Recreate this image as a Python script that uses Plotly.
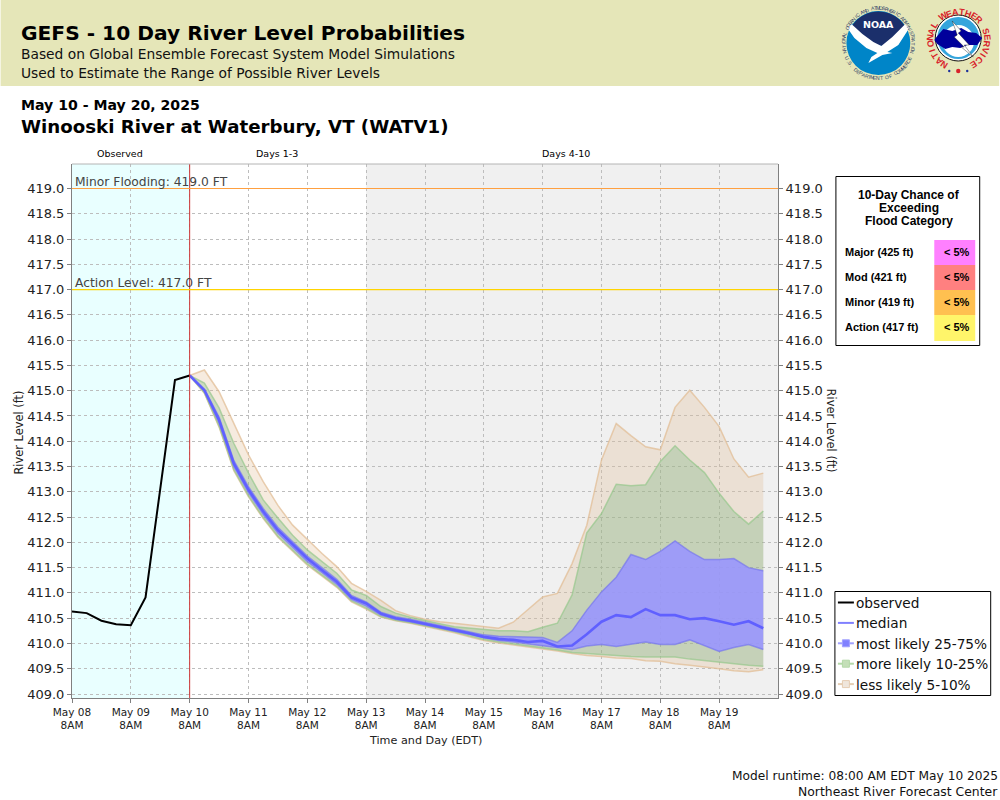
"""
plot.py - GEFS 10 day river level probabilities, Winooski River at Waterbury, VT.
"""
import math

import pandas as pd
import plotly.graph_objects as go

# ---------------------------------------------------------------------------
# Data
# ---------------------------------------------------------------------------
obs_start = "2025-05-08 08:00"
observed = [410.63, 410.60, 410.45, 410.38, 410.36, 410.91, 413.06, 415.21, 415.30]

fcst_start = "2025-05-10 08:00"
p95 = [415.30, 415.41, 414.98, 414.35, 413.73, 413.20, 412.73, 412.34, 412.05, 411.78,
       411.52, 411.19, 411.03, 410.85, 410.65, 410.55, 410.48, 410.43, 410.40, 410.37,
       410.33, 410.30, 410.42, 410.68, 410.92, 410.99, 411.58, 412.34, 413.63, 414.35,
       414.11, 413.89, 413.83, 414.67, 415.01, 414.67, 414.29, 413.65, 413.29, 413.37]
p90 = [415.30, 415.15, 414.66, 413.96, 413.37, 412.84, 412.48, 412.14, 411.85, 411.62,
       411.39, 411.06, 410.95, 410.73, 410.60, 410.52, 410.45, 410.39, 410.33, 410.30,
       410.27, 410.25, 410.25, 410.23, 410.32, 410.40, 410.96, 412.19, 412.57, 413.15,
       413.12, 413.14, 413.60, 413.91, 413.63, 413.38, 412.97, 412.61, 412.36, 412.62]
p75 = [415.30, 415.03, 414.48, 413.62, 413.10, 412.67, 412.30, 412.01, 411.73, 411.50,
       411.27, 410.95, 410.82, 410.62, 410.53, 410.48, 410.42, 410.35, 410.30, 410.23,
       410.17, 410.14, 410.14, 410.13, 410.12, 410.02, 410.25, 410.66, 411.02, 411.31,
       411.76, 411.66, 411.82, 412.03, 411.82, 411.66, 411.66, 411.68, 411.50, 411.44]
median = [415.30, 415.01, 414.42, 413.56, 413.04, 412.61, 412.24, 411.96, 411.68, 411.45,
          411.22, 410.91, 410.79, 410.59, 410.50, 410.45, 410.39, 410.32, 410.27, 410.20,
          410.13, 410.09, 410.07, 410.03, 410.05, 409.94, 409.96, 410.18, 410.43, 410.56,
          410.52, 410.68, 410.56, 410.56, 410.48, 410.50, 410.44, 410.37, 410.44, 410.30]
p25 = [415.30, 414.99, 414.36, 413.50, 412.98, 412.55, 412.18, 411.90, 411.62, 411.40,
       411.17, 410.87, 410.74, 410.56, 410.48, 410.43, 410.37, 410.30, 410.25, 410.18,
       410.11, 410.06, 410.03, 409.99, 409.96, 409.92, 409.88, 409.95, 409.98, 409.94,
       409.98, 410.03, 409.98, 409.98, 410.07, 409.95, 409.84, 409.92, 409.98, 409.88]
p10 = [415.30, 414.96, 414.30, 413.44, 412.92, 412.49, 412.12, 411.84, 411.57, 411.35,
       411.13, 410.84, 410.70, 410.53, 410.46, 410.41, 410.35, 410.28, 410.23, 410.15,
       410.08, 410.03, 409.99, 409.96, 409.92, 409.87, 409.82, 409.80, 409.77, 409.76,
       409.74, 409.73, 409.73, 409.73, 409.69, 409.66, 409.63, 409.59, 409.57, 409.55]
p5 = [415.30, 414.95, 414.28, 413.42, 412.90, 412.47, 412.10, 411.82, 411.55, 411.33,
      411.11, 410.82, 410.68, 410.52, 410.45, 410.40, 410.34, 410.27, 410.21, 410.13,
      410.06, 410.01, 409.97, 409.94, 409.90, 409.85, 409.80, 409.76, 409.74, 409.71,
      409.70, 409.66, 409.65, 409.60, 409.57, 409.54, 409.50, 409.46, 409.44, 409.48]

tick_days = ["May 08", "May 09", "May 10", "May 11", "May 12", "May 13",
             "May 14", "May 15", "May 16", "May 17", "May 18", "May 19"]
y_ticks = [409 + 0.5 * i for i in range(21)]

flood_names = ["Major (425 ft)", "Mod (421 ft)", "Minor (419 ft)", "Action (417 ft)"]
flood_chance = ["< 5%", "< 5%", "< 5%", "< 5%"]
flood_colors = ["#FF80FF", "#FF8080", "#FFC050", "#FFF56A"]

legend_names = ["observed", "median", "most likely 25-75%", "more likely 10-25%", "less likely 5-10%"]

minor_level = 419.0
action_level = 417.0

# ---------------------------------------------------------------------------
# Pixel helpers (page is 1000x800, everything outside the axes goes in paper)
# ---------------------------------------------------------------------------
W, H = 1000, 800
L, R, T, B = 71.5, 778.5, 164, 698


def px(x):
    return (x - L) / (R - L)


def py(y):
    return (B - y) / (B - T)


annotations = []
shapes = []


def label(x, y, text, size=12, color="#000000", family="DejaVu Sans", anchor="left", angle=0):
    annotations.append(dict(
        x=px(x), y=py(y), xref="paper", yref="paper", text=text, showarrow=False,
        xanchor=anchor, yanchor="middle", textangle=angle,
        font=dict(family=family, size=size, color=color), borderpad=0, borderwidth=0,
    ))


def rect(x0, y0, x1, y1, fill, line=None, width=1):
    shapes.append(dict(
        type="rect", xref="paper", yref="paper", x0=px(x0), x1=px(x1), y0=py(y0), y1=py(y1),
        fillcolor=fill, line=dict(color=line or fill, width=width if line else 0), layer="above",
    ))


def seg(x0, y0, x1, y1, color, width=1):
    shapes.append(dict(
        type="line", xref="paper", yref="paper", x0=px(x0), x1=px(x1), y0=py(y0), y1=py(y1),
        line=dict(color=color, width=width), layer="above",
    ))


def poly(points, fill, line=None, width=0.5):
    path = "M" + " L".join(f"{px(a):.5f},{py(b):.5f}" for a, b in points) + " Z"
    shapes.append(dict(
        type="path", xref="paper", yref="paper", path=path, fillcolor=fill,
        line=dict(color=line or fill, width=width if line else 0), layer="above",
    ))


def circle(cx, cy, r, fill, line=None, width=1):
    shapes.append(dict(
        type="circle", xref="paper", yref="paper", x0=px(cx - r), x1=px(cx + r),
        y0=py(cy + r), y1=py(cy - r), fillcolor=fill,
        line=dict(color=line or fill, width=width if line else 0), layer="above",
    ))


def ring_text(cx, cy, r, text, start, end, size, color, bold=False, bottom=False):
    """Letters along a circle. Angles in degrees, clockwise from 12 o'clock."""
    n = len(text)
    for i, ch in enumerate(text):
        if ch == " ":
            continue
        a = start + (end - start) * i / (n - 1)
        t = math.radians(a)
        angle = a - 180 if bottom else a
        label(cx + r * math.sin(t), cy - r * math.cos(t), f"<b>{ch}</b>" if bold else ch,
              size=size, color=color, anchor="center", angle=angle,
              family="Liberation Sans")


# ---------------------------------------------------------------------------
# Figure
# ---------------------------------------------------------------------------
fcst_x = pd.date_range(fcst_start, periods=len(median), freq="6h")
obs_x = pd.date_range(obs_start, periods=len(observed), freq="6h")
tick_x = pd.date_range(obs_start, periods=len(tick_days), freq="1D")

TAN_LINE, TAN_FILL = "rgba(225,190,150,0.75)", "rgba(225,190,150,0.30)"
GREEN_LINE, GREEN_FILL = "rgba(150,200,140,0.70)", "rgba(110,175,120,0.30)"
BLUE_LINE, BLUE_FILL = "rgba(110,110,240,0.60)", "rgba(153,148,255,0.88)"

fig = go.Figure()


def band(low, high, line, fill):
    fig.add_trace(go.Scatter(x=fcst_x, y=low, mode="lines", line=dict(color=line, width=1.5),
                             showlegend=False, hoverinfo="skip"))
    fig.add_trace(go.Scatter(x=fcst_x, y=high, mode="lines", line=dict(color=line, width=1.5),
                             fill="tonexty", fillcolor=fill, showlegend=False, hoverinfo="skip"))


band(p5, p95, TAN_LINE, TAN_FILL)
band(p10, p90, GREEN_LINE, GREEN_FILL)
band(p25, p75, BLUE_LINE, BLUE_FILL)

fig.add_trace(go.Scatter(x=fcst_x, y=median, mode="lines", name="median",
                         line=dict(color="#6060FF", width=2.6), showlegend=False))
fig.add_trace(go.Scatter(x=obs_x, y=observed, mode="lines", name="observed",
                         line=dict(color="#000000", width=2), showlegend=False))

# right hand axis, same scale
fig.add_trace(go.Scatter(x=[None], y=[None], yaxis="y2", showlegend=False, hoverinfo="skip"))

# background periods, then flood levels
shapes.append(dict(type="rect", xref="x", yref="paper", x0=tick_x[0], x1=fcst_start, y0=0, y1=1,
                   fillcolor="#E9FFFF", line=dict(width=0), layer="below"))
shapes.append(dict(type="rect", xref="x", yref="paper", x0="2025-05-13 08:00", x1="2025-05-20 08:00",
                   y0=0, y1=1, fillcolor="#F0F0F0", line=dict(width=0), layer="below"))
shapes.append(dict(type="line", xref="x", yref="paper", x0=fcst_start, x1=fcst_start, y0=0, y1=1,
                   line=dict(color="#CC3333", width=1), layer="above"))
shapes.append(dict(type="line", xref="paper", yref="y", x0=0, x1=1, y0=minor_level, y1=minor_level,
                   line=dict(color="#FFA040", width=1.2), layer="above"))
shapes.append(dict(type="line", xref="paper", yref="y", x0=0, x1=1, y0=action_level, y1=action_level,
                   line=dict(color="#FFD400", width=1.4), layer="above"))
seg(L, T, R, T, "#B4B4B4", 1)

# ---- header ----
rect(0, 0, W, 86, "#E5E6B8")
label(20.5, 33, "<b>GEFS - 10 Day River Level Probabilities</b>", size=20.2)
label(20.5, 54, "Based on Global Ensemble Forecast System Model Simulations", size=13.8, color="#111111")
label(20.5, 73, "Used to Estimate the Range of Possible River Levels", size=13.8, color="#111111")
label(20.5, 105, "<b>May 10 - May 20, 2025</b>", size=14.1)
label(20.5, 126, "<b>Winooski River at Waterbury, VT (WATV1)</b>", size=18.2)

# ---- NOAA logo ----
NX, NY = 879, 43
circle(NX, NY, 32, "#0085C8")
arc = [(NX + 31.5 * math.sin(math.radians(a)), NY - 31.5 * math.cos(math.radians(a)))
       for a in range(-66, 67, 6)]
poly(arc + [(NX + 16, NY - 6), (NX + 4, NY + 3), (NX - 6, NY + 1), (NX - 17, NY - 7)], "#1B2F6B")
poly([(NX - 31, NY - 15), (NX - 27, NY - 19), (NX - 16, NY - 9), (NX - 5, NY - 1), (NX + 3, NY + 3),
      (NX + 14, NY - 6), (NX + 27, NY - 19), (NX + 31, NY - 15), (NX + 20, NY + 2), (NX + 9, NY + 9),
      (NX + 14, NY + 10), (NX + 4, NY + 12), (NX - 10, NY + 20), (NX - 7, NY + 14), (NX - 1, NY + 10),
      (NX - 12, NY + 5), (NX - 24, NY - 5)], "#FFFFFF")
label(NX, NY - 18, "<b>NOAA</b>", size=9.5, color="#FFFFFF", anchor="center")
ring_text(NX, NY, 35, "NATIONAL OCEANIC AND ATMOSPHERIC ADMINISTRATION", -105, 105, 5, "#2A3A66")
ring_text(NX, NY, 35, "U.S. DEPARTMENT OF COMMERCE", 244, 116, 5, "#2A3A66", bottom=True)

# ---- NWS logo ----
SX, SY = 959, 38
circle(SX, SY, 23, "#FFFFFF", "#111111", 1)
circle(SX, SY, 21, "#35A5DC")
circle(SX, SY + 3, 16, "#FFFFFF")
poly([(SX - 21, SY - 2), (SX - 15, SY - 9), (SX - 6, SY - 7), (SX + 3, SY - 10), (SX + 10, SY - 6),
      (SX + 18, SY - 5), (SX + 24, SY), (SX + 19, SY + 7), (SX + 9, SY + 7), (SX + 2, SY + 10),
      (SX - 6, SY + 9), (SX - 13, SY + 11), (SX - 21, SY + 6), (SX - 24, SY + 2)], "#00009B")
poly([(SX - 6, SY - 17), (SX + 3, SY - 7), (SX, SY - 5), (SX + 11, SY + 7), (SX + 6, SY + 7),
      (SX + 15, SY + 19), (SX + 3, SY + 9), (SX + 6, SY + 9), (SX - 4, SY - 1), (SX - 1, SY - 3)],
     "#FFFFFF", "#111111", 0.4)
ring_text(SX + 0.5, SY + 2.5, 28.5, "NATIONAL WEATHER SERVICE", -148, 148, 9, "#D8222A", bold=True)
for dx, rr, col in [(-9, 1.2, "#1B2F9B"), (0, 2.2, "#D8222A"), (9, 1.2, "#1B2F9B")]:
    circle(SX + dx, SY + 33, rr, col)

# ---- flood table ----
rect(836.5, 176.5, 980.5, 345.5, "#FFFFFF", "#000000", 1)
for i, line in enumerate(["10-Day Chance of", "Exceeding", "Flood Category"]):
    label(910, 195 + 13 * i, f"<b>{line}</b>", size=12, family="Liberation Sans", anchor="center")
for i, (nm, chance, col) in enumerate(zip(flood_names, flood_chance, flood_colors)):
    y0 = 240 + 25 * i
    rect(935, y0, 976, y0 + 25 + (1 if i == 3 else 0), col)
    label(845.5, y0 + 11.5, f"<b>{nm}</b>", size=11, family="Liberation Sans")
    label(957.5, y0 + 11.5, f"<b>{chance}</b>", size=11, family="Liberation Sans", anchor="center")

# ---- legend, drawn by hand since plotly's symbols are too wide for this box ----
rect(835.5, 591.5, 991.5, 695.5, "#FFFFFF", "#000000", 1)
legend_lines = ["#000000", "#8080FF", "#A0A0FF", "#B4D8A8", "#E5CDB3"]
legend_faces = [None, None, "#8080FF", "#C4DFB8", "#EFE6DC"]
for i, (nm, edge, face) in enumerate(zip(legend_names, legend_lines, legend_faces)):
    yy = 602.5 + 20.4 * i
    seg(838.5, yy, 854.5, yy, edge, 2)
    if face:
        rect(843, yy - 3.5, 850, yy + 3.5, face, edge, 1)
    label(857, yy + 0.5, nm, size=13.7, color="#111111")

# ---- texts around the plot ----
label(120, 154, "Observed", size=9.5, anchor="center")
label(276.5, 154, "Days 1-3", size=9.5, anchor="center")
label(566, 154, "Days 4-10", size=9.5, anchor="center")
label(75, 181.5, "Minor Flooding: 419.0 FT", size=12.3, color="#444444")
label(75, 283, "Action Level: 417.0 FT", size=12.3, color="#444444")
label(18, 433, "River Level (ft)", size=11.4, color="#222222", anchor="center", angle=-90)
label(832, 431, "River Level (ft)", size=11.4, color="#222222", anchor="center", angle=90)
label(425, 740, "Time and Day (EDT)", size=11.2, color="#222222", anchor="center")
label(998.5, 775.5, "Model runtime: 08:00 AM EDT May 10 2025", size=12.2, color="#111111", anchor="right")
label(998.5, 791.5, "Northeast River Forecast Center", size=12.4, color="#111111", anchor="right")

grid = dict(showgrid=True, gridcolor="#BDBDBD", griddash="3px,3px", gridwidth=1, zeroline=False)
y_range = [409 - (B - 694) / 50.55, 419 + (188.5 - T) / 50.55]

fig.update_layout(
    width=W, height=H,
    margin=dict(l=L, r=W - R, t=T, b=H - B, pad=0, autoexpand=False),
    paper_bgcolor="#FFFFFF", plot_bgcolor="#FFFFFF",
    font=dict(family="DejaVu Sans", color="#222222"),
    showlegend=False,
    xaxis=dict(
        type="date", range=[obs_start, "2025-05-20 08:00"],
        tickmode="array", tickvals=list(tick_x),
        ticktext=[f"{d}<br>8AM" for d in tick_days],
        tickfont=dict(size=10.5), tickangle=0,
        ticks="outside", ticklen=4, tickcolor="#808080",
        showline=True, linecolor="#808080", linewidth=1, **grid,
    ),
    yaxis=dict(
        range=y_range, tickmode="array", tickvals=y_ticks,
        ticktext=[f"{v:.1f}" for v in y_ticks], tickfont=dict(size=13),
        ticks="outside", ticklen=4, tickcolor="#808080",
        showline=True, linecolor="#808080", linewidth=1, **grid,
    ),
    yaxis2=dict(
        range=y_range, overlaying="y", side="right", tickmode="array", tickvals=y_ticks,
        ticktext=[f"{v:.1f}" for v in y_ticks], tickfont=dict(size=13),
        ticks="outside", ticklen=4, tickcolor="#808080", showgrid=False, zeroline=False,
        showline=True, linecolor="#808080", linewidth=1,
    ),
    shapes=shapes, annotations=annotations, hovermode=False,
)

fig.write_html("out.html", config=dict(displayModeBar=False),
               post_script="document.body.style.margin='0';")
